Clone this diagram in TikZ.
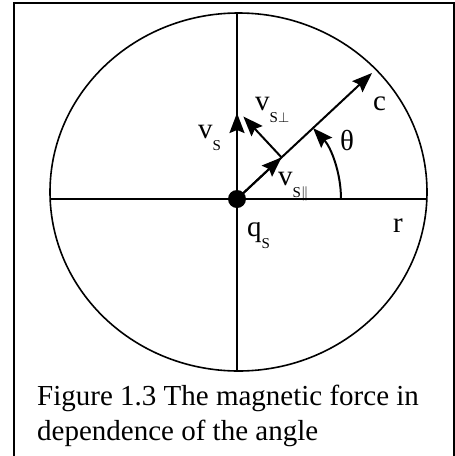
\documentclass[tikz,border=0pt]{standalone}
\usepackage{fontspec}
\setmainfont{Liberation Serif}
\usetikzlibrary{arrows.meta,calc}
\newcommand{\lsub}[1]{\raisebox{-12pt}{\fontsize{15}{15}\selectfont #1}}
\begin{document}
\begin{tikzpicture}[x=1pt,y=-1pt,
  axis/.style={line width=1.6pt},
  vec/.style={line width=2pt,-{Stealth[length=20pt,width=15pt,inset=3pt]}},
  lbl/.style={font=\fontsize{29}{31}\selectfont, inner sep=0pt, anchor=base west},
  captext/.style={font=\fontsize{29}{31}\selectfont, inner sep=0pt, anchor=base west}]
\useasboundingbox (0,0) rectangle (455,456);
\clip (0,0) rectangle (455,456);
\draw[line width=2pt] (14,3) rectangle (453.5,480);
\coordinate (E) at (238.5,192);
\draw[line width=1.6pt] (E) ellipse [x radius=188.5pt, y radius=179pt];
\coordinate (L) at (50.14,199);
\coordinate (R) at (426.86,199);
\coordinate (T) at (237,13);
\coordinate (B) at (237,371);
\draw[axis] (L) -- (R);
\draw[axis] (T) -- (B);
\node[circle, fill, inner sep=0pt, minimum size=18pt] (O) at (237,199) {};
\coordinate (C) at (372,73);
\draw[vec] (O.center) -- (C);
\coordinate (F) at ($(O.center)!0.33!(C)$);
\draw[vec] (O.center) -- (F);
\coordinate (P) at ($(F)!56pt!90:(C)$);
\draw[vec] (F) -- (P);
\coordinate (VS) at (237,113);
\draw[vec] (O.center) -- (VS);
\coordinate (A0) at (341,199);
\draw[vec] (A0) arc[start angle=0, end angle=43, radius=104pt];
\node[lbl] (lvs) at (198,138) {v\lsub{S}};
\node[lbl] (lvp) at (255,110) {v\lsub{S$\perp$}};
\node[lbl] (lvl) at (278,185) {v\lsub{S$\Vert$}};
\node[lbl] (lq) at (247,236) {q\lsub{S}};
\node[lbl] (lr) at (393,232) {r};
\node[lbl] (lc) at (373,110) {c};
\node[lbl] (lt) at (340,150) {θ};
\node[captext] (cap1) at (37,405) {Figure 1.3 The magnetic force in};
\node[captext] (cap2) at (37,440) {dependence of the angle};
\end{tikzpicture}
\end{document}
